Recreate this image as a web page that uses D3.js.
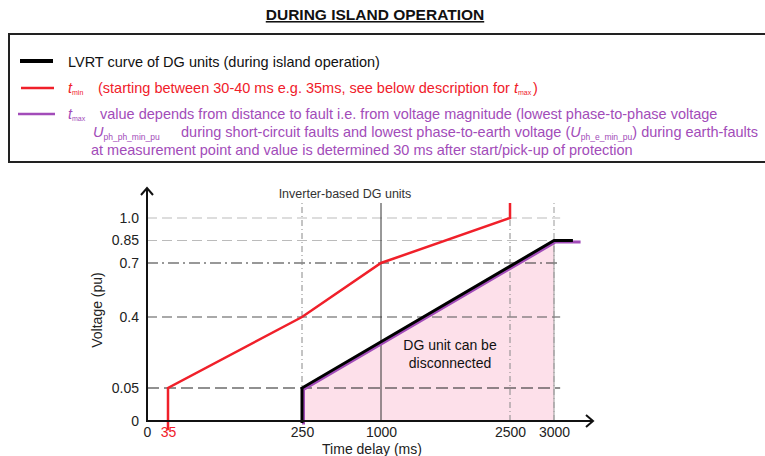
<!DOCTYPE html>
<html>
<head>
<meta charset="utf-8">
<script src="https://cdn.jsdelivr.net/npm/d3@7"></script>
<style>
  body { margin: 0; background: #fff; }
  svg { display: block; font-family: "Liberation Sans", Arial, sans-serif; }
</style>
</head>
<body>
<svg width="765" height="456"></svg>
<script>
// ---- Data
const xTicks = [0, 35, 250, 1000, 2500, 3000];
const xTickLabels = ['0', '35', '250', '1000', '2500', '3000'];
const yTicks = [0, 0.05, 0.4, 0.7, 0.85, 1.0];
const yTickLabels = ['0', '0.05', '0.4', '0.7', '0.85', '1.0'];
const tMinCurve = [[35, -0.014], [35, 0.05], [250, 0.4], [1000, 0.7], [2500, 1.0], [2500, 1.1]];
const lvrtCurve = [[250, -0.003], [250, 0.05], [3000, 0.85], [3215, 0.85]];
const tMaxCurve = [[250, -0.003], [250, 0.05], [3000, 0.85], [3285, 0.85]];
const disconnectArea = [[250, 0.05], [3000, 0.85]];
const vGridTicks = [250, 1000, 2500, 3000];

const RED = '#f0202a';
const PURPLE = '#a24cb9';
const LEGEND_FONT = '14.5px';

// ---- Grid styles (per tick value)
const hGridStyle = {
    0.05: { stroke: '#222', dash: '12,5' },
    0.4: { stroke: '#555', dash: '10,5' },
    0.7: { stroke: '#333', dash: '11,4,2,4' },
    0.85: { stroke: '#bbb', dash: '10,5' },
    1: { stroke: '#bbb', dash: '10,5' }
};
const vGridStyle = {
    250: { stroke: '#888', dash: '6,3,1,3' },
    1000: { stroke: '#333', dash: null },
    2500: { stroke: '#888', dash: '6,3,1,3' },
    3000: { stroke: '#999', dash: '6,3,1,3' }
};

const svg = d3.select('svg');

// ---- Title
svg.append('text')
    .attr('x', 375).attr('y', 20)
    .attr('text-anchor', 'middle')
    .style('font-size', '15.5px').style('font-weight', 'bold')
    .style('text-decoration', 'underline')
    .attr('fill', '#111')
    .text('DURING ISLAND OPERATION');

// ---- Legend box
svg.append('rect')
    .attr('x', 9).attr('y', 34)
    .attr('width', 800).attr('height', 128)
    .attr('fill', 'none').attr('stroke', '#222').attr('stroke-width', 2);

const legend = svg.append('g');
legend.append('line').attr('x1', 20).attr('x2', 53).attr('y1', 61).attr('y2', 61)
    .attr('stroke', '#000').attr('stroke-width', 4);
legend.append('line').attr('x1', 21).attr('x2', 54).attr('y1', 88).attr('y2', 88)
    .attr('stroke', RED).attr('stroke-width', 2.5);
legend.append('line').attr('x1', 18).attr('x2', 55).attr('y1', 114).attr('y2', 114)
    .attr('stroke', PURPLE).attr('stroke-width', 2.5);

legend.append('text').attr('x', 68).attr('y', 67)
    .style('font-size', LEGEND_FONT).attr('fill', '#111')
    .text('LVRT curve of DG units (during island operation)');

const l2 = legend.append('text').attr('x', 68).attr('y', 93)
    .style('font-size', LEGEND_FONT).attr('fill', RED);
l2.append('tspan').style('font-style', 'italic').text('t');
l2.append('tspan').attr('dy', 2).style('font-size', '7px').text('min');
l2.append('tspan').attr('x', 98).attr('dy', -2)
    .text('(starting between 30-40 ms e.g. 35ms,  see below description for ');
l2.append('tspan').style('font-style', 'italic').text('t');
l2.append('tspan').attr('dy', 2).style('font-size', '7px').text('max ');
l2.append('tspan').attr('dy', -2).text(')');

const l3 = legend.append('text').attr('x', 68).attr('y', 119)
    .style('font-size', LEGEND_FONT).attr('fill', PURPLE);
l3.append('tspan').style('font-style', 'italic').text('t');
l3.append('tspan').attr('dy', 2).style('font-size', '7px').text('max');
l3.append('tspan').attr('x', 100).attr('dy', -2)
    .text('value depends from distance to fault  i.e. from voltage magnitude (lowest phase-to-phase voltage');

const l4 = legend.append('text').attr('x', 93).attr('y', 137)
    .style('font-size', LEGEND_FONT).attr('fill', PURPLE);
l4.append('tspan').style('font-style', 'italic').text('U');
l4.append('tspan').attr('dy', 3).style('font-size', '8.5px').text('ph_ph_min_pu');
l4.append('tspan').attr('x', 181).attr('dy', -3)
    .text('during short-circuit faults  and lowest phase-to-earth voltage (');
l4.append('tspan').style('font-style', 'italic').text('U');
l4.append('tspan').attr('dy', 3).style('font-size', '8.5px').text('ph_e_min_pu');
l4.append('tspan').attr('dy', -3).text(') during earth-faults');

legend.append('text').attr('x', 91).attr('y', 155)
    .style('font-size', LEGEND_FONT).attr('fill', PURPLE)
    .text('at measurement point  and value is determined 30 ms after  start/pick-up of protection');

// ---- Scales (schematic, piecewise)
const x = d3.scaleLinear().domain(xTicks).range([147, 168, 302, 381, 510, 554]);
const y = d3.scaleLinear().domain(yTicks).range([421, 388, 317, 263, 240.5, 218]);

const chart = svg.append('g');

// ---- Disconnect region
chart.append('path')
    .datum(disconnectArea)
    .attr('d', d3.area().x(d => x(d[0])).y0(y(0)).y1(d => y(d[1])))
    .attr('fill', '#fde0ea');

chart.append('line')
    .attr('x1', x(3000)).attr('x2', x(3000))
    .attr('y1', y(0)).attr('y2', y(0.85))
    .attr('stroke', '#999').attr('stroke-width', 1);

// ---- Grid
chart.selectAll('.hgrid')
    .data(yTicks.filter(d => d > 0))
    .join('line')
    .attr('class', 'hgrid')
    .attr('x1', x(0)).attr('x2', x(3070))
    .attr('y1', d => y(d)).attr('y2', d => y(d))
    .attr('stroke', d => hGridStyle[d].stroke)
    .attr('stroke-dasharray', d => hGridStyle[d].dash)
    .attr('stroke-width', 1.2);

chart.selectAll('.vgrid')
    .data(vGridTicks)
    .join('line')
    .attr('class', 'vgrid')
    .attr('x1', d => x(d)).attr('x2', d => x(d))
    .attr('y1', y(0)).attr('y2', y(1.1))
    .attr('stroke', d => vGridStyle[d].stroke)
    .attr('stroke-dasharray', d => vGridStyle[d].dash)
    .attr('stroke-width', 1);

chart.append('text')
    .attr('x', 345).attr('y', 198)
    .attr('text-anchor', 'middle')
    .style('font-size', '12.5px').attr('fill', '#333')
    .text('Inverter-based DG units');

// ---- Curves
const line = d3.line().x(d => x(d[0])).y(d => y(d[1]));

chart.append('path')
    .datum(tMaxCurve)
    .attr('d', line)
    .attr('transform', 'translate(1.5,1.5)')
    .attr('fill', 'none').attr('stroke', PURPLE).attr('stroke-width', 3);

chart.append('path')
    .datum(lvrtCurve)
    .attr('d', line)
    .attr('fill', 'none').attr('stroke', '#000').attr('stroke-width', 3);

chart.append('path')
    .datum(tMinCurve)
    .attr('d', line)
    .attr('fill', 'none').attr('stroke', RED).attr('stroke-width', 2.5);

chart.append('text')
    .attr('x', 450).attr('text-anchor', 'middle')
    .style('font-size', '14px').attr('fill', '#111')
    .selectAll('tspan')
    .data(['DG unit can be', 'disconnected'])
    .join('tspan')
    .attr('x', 450)
    .attr('y', (d, i) => 350 + i * 18)
    .text(d => d);

// ---- Axes
const yAxis = chart.append('g')
    .attr('transform', `translate(${x(0)},0)`)
    .call(d3.axisLeft(y).tickValues(yTicks).tickFormat((d, i) => yTickLabels[i]).tickSize(0).tickPadding(8));
yAxis.select('.domain').remove();
yAxis.selectAll('text').style('font-size', '14px').attr('fill', '#222')
    .style('font-family', '"Liberation Sans", Arial, sans-serif');

const xAxis = chart.append('g')
    .attr('transform', `translate(0,${y(0)})`)
    .call(d3.axisBottom(x).tickValues(xTicks).tickFormat((d, i) => xTickLabels[i]).tickSize(0).tickPadding(6));
xAxis.select('.domain').remove();
xAxis.selectAll('text').style('font-size', '14px')
    .attr('fill', d => d === 35 ? RED : '#222')
    .style('font-family', '"Liberation Sans", Arial, sans-serif');

// axis lines with arrow heads
chart.append('path')
    .attr('d', `M${x(0)},${y(0) + 1}V188M${x(0) - 6},195L${x(0)},188L${x(0) + 6},195`)
    .attr('fill', 'none').attr('stroke', '#111').attr('stroke-width', 2);
chart.append('path')
    .attr('d', `M${x(0) - 1},${y(0)}H593M586,${y(0) - 6}L593,${y(0)}L586,${y(0) + 6}`)
    .attr('fill', 'none').attr('stroke', '#111').attr('stroke-width', 2);

chart.append('text')
    .attr('transform', 'translate(102,310) rotate(-90)')
    .attr('text-anchor', 'middle')
    .style('font-size', '14px').attr('fill', '#222')
    .text('Voltage (pu)');

chart.append('text')
    .attr('x', 372).attr('y', 453.5)
    .attr('text-anchor', 'middle')
    .style('font-size', '14px').attr('fill', '#222')
    .text('Time delay (ms)');
</script>
</body>
</html>
